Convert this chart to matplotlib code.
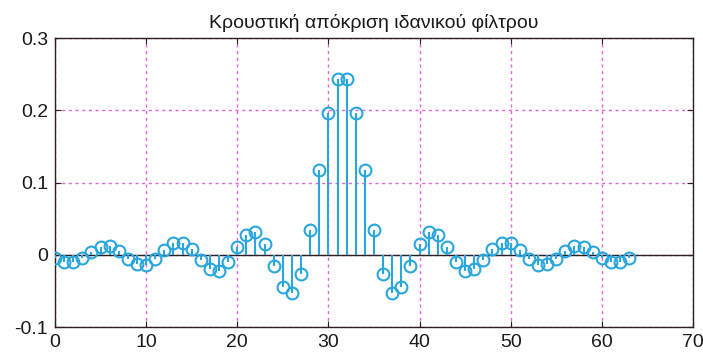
import matplotlib
matplotlib.use("Agg")
import matplotlib.pyplot as plt

# Impulse response samples h[n], n = 0..63 (symmetric about n = 31.5)
n = list(range(64))
half = [-0.0039, -0.0096, -0.0100, -0.0043, 0.0044, 0.0111, 0.0115, 0.0050,
        -0.0052, -0.0131, -0.0137, -0.0059, 0.0063, 0.0159, 0.0168, 0.0074,
        -0.0079, -0.0203, -0.0218, -0.0098, 0.0106, 0.0280, 0.0310, 0.0143,
        -0.0162, -0.0452, -0.0535, -0.0271, 0.0348, 0.1176, 0.1961, 0.2436]
h = half + half[::-1]

title = "Κρουστική απόκριση ιδανικού φίλτρου"
xticks = [0, 10, 20, 30, 40, 50, 60, 70]
yticks = [-0.1, 0, 0.1, 0.2, 0.3]
ytick_labels = ["-0.1", "0", "0.1", "0.2", "0.3"]

plt.rcParams["font.family"] = ["Liberation Sans", "DejaVu Sans"]

stem_color = "#29a6dd"
grid_color = "#e066d6"
axis_color = "#2a2020"

fig = plt.figure(figsize=(7.03, 3.52), dpi=100)
ax = fig.add_axes([0.0782, 0.071, 0.9075, 0.821])

ax.set_xlim(0, 70)
ax.set_ylim(-0.1, 0.3)
ax.set_xticks(xticks)
ax.set_yticks(yticks)
ax.set_yticklabels(ytick_labels)

ax.grid(True, color=grid_color, linestyle=(0, (2.2, 2.6)), linewidth=1.0)
ax.set_axisbelow(True)

ax.axhline(0, color=axis_color, linewidth=1.0, zorder=2)
ax.vlines(n, 0, h, color=stem_color, linewidth=1.5, zorder=3)
ax.plot(n, h, linestyle="none", marker="o", markersize=8.5,
        markerfacecolor="none", markeredgecolor=stem_color,
        markeredgewidth=1.5, zorder=4)

for s in ax.spines.values():
    s.set_color(axis_color)
    s.set_linewidth(1.0)

ax.tick_params(direction="in", length=4, color=axis_color,
               top=True, right=True,
               labelsize=14, labelcolor="#1a1a1a", pad=5)

ax.set_title(title, fontsize=14, color="#1a1a1a", pad=7)

fig.savefig("out.png", dpi=100)
